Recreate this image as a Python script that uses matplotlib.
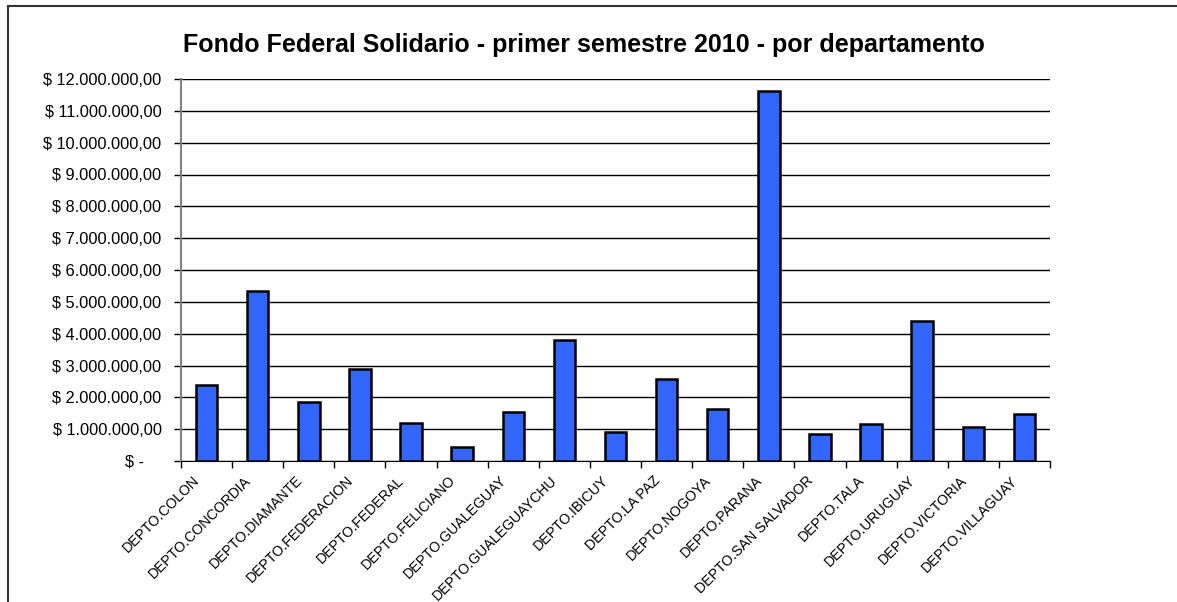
import numpy as np
import matplotlib.pyplot as plt
from matplotlib.lines import Line2D
from matplotlib.transforms import ScaledTranslation

plt.rcParams['font.family'] = ['Liberation Sans', 'DejaVu Sans']

deptos = ['DEPTO.COLON', 'DEPTO.CONCORDIA', 'DEPTO.DIAMANTE', 'DEPTO.FEDERACION',
          'DEPTO.FEDERAL', 'DEPTO.FELICIANO', 'DEPTO.GUALEGUAY', 'DEPTO.GUALEGUAYCHU',
          'DEPTO.IBICUY', 'DEPTO.LA PAZ', 'DEPTO.NOGOYA', 'DEPTO.PARANA',
          'DEPTO.SAN SALVADOR', 'DEPTO.TALA', 'DEPTO.URUGUAY', 'DEPTO.VICTORIA',
          'DEPTO.VILLAGUAY']
montos = [2400000, 5340000, 1840000, 2900000, 1180000, 450000, 1550000, 3800000,
          900000, 2570000, 1620000, 11620000, 840000, 1160000, 4410000, 1080000,
          1490000]
yticks = np.arange(0, 12000001, 1000000)


def pesos(v, pos=None):
    if v == 0:
        return '$ -    '
    s = f'{int(round(v)):,}'.replace(',', '.')
    return f'$ {s},00'


fig = plt.figure(figsize=(11.77, 6.02), dpi=100)
ax = fig.add_axes([181 / 1177, 1 - 461 / 602, (1050 - 181) / 1177, (461 - 79) / 602])

x = np.arange(len(deptos))
ax.bar(x, montos, width=0.42, color='#3366FF', edgecolor='black', linewidth=1.8, zorder=3)

ax.set_xlim(-0.5, len(deptos) - 0.5)
ax.set_ylim(0, 12000000)
ax.set_yticks(yticks)
ax.yaxis.set_major_formatter(plt.FuncFormatter(pesos))
ax.grid(axis='y', color='black', linewidth=1, zorder=0)

ax.set_xticks(x)
ax.set_xticklabels(deptos, rotation=45, ha='right', va='center', rotation_mode='anchor')
ax.set_xticks(np.arange(-0.5, len(deptos)), minor=True)
ax.tick_params(axis='x', which='major', length=0, pad=12.5, labelsize=10.2)
ax.tick_params(axis='x', which='minor', length=5, width=1, direction='out')
ax.tick_params(axis='y', length=5, width=1, labelsize=11.8, pad=9)

# shift the slanted labels a little to the left, like the original
shift = ScaledTranslation(-9 / 100, 0, fig.dpi_scale_trans)
for lab in ax.get_xticklabels():
    lab.set_transform(lab.get_transform() + shift)

for s in ['top', 'right']:
    ax.spines[s].set_visible(False)
ax.spines['left'].set_color('#808080')
ax.spines['left'].set_linewidth(1.5)
ax.spines['bottom'].set_color('black')

fig.text(0.496, 1 - 45 / 602, 'Fondo Federal Solidario - primer semestre 2010 - por departamento',
         ha='center', va='center', fontsize=18, fontweight='bold')

# chart border (extends beyond right and bottom edges)
fig.add_artist(Line2D([8 / 1177, 8 / 1177], [0, 1 - 6 / 602], color='#333333', lw=1.5))
fig.add_artist(Line2D([8 / 1177, 1], [1 - 6 / 602, 1 - 6 / 602], color='#333333', lw=1.5))

fig.savefig('out.png', dpi=100)
